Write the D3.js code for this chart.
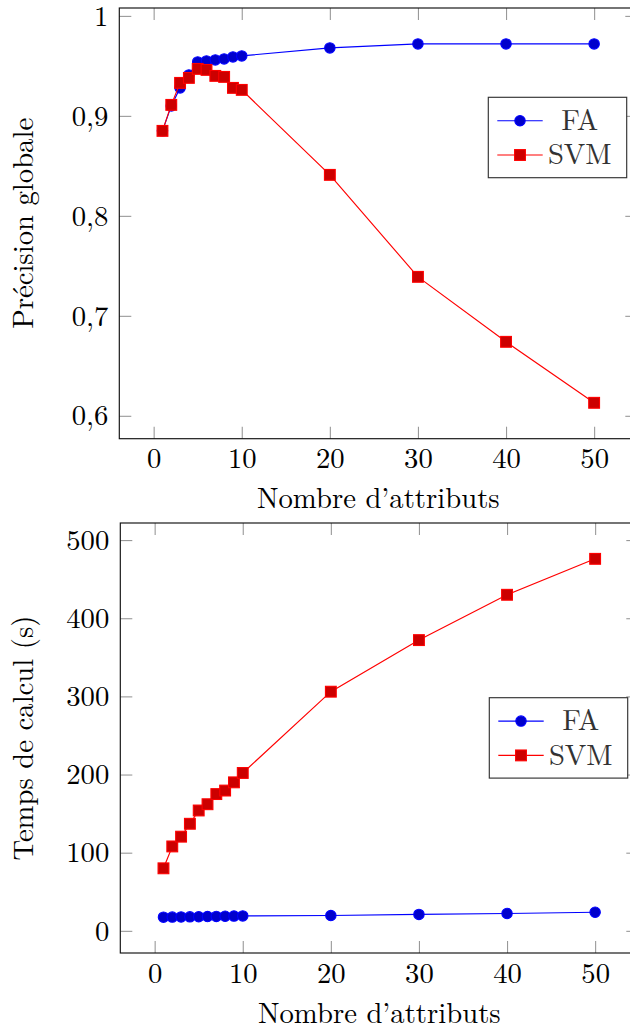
<!DOCTYPE html>
<html>
<head>
<meta charset="utf-8">
<script src="https://cdn.jsdelivr.net/npm/d3@7"></script>
<style>
  html, body { margin: 0; padding: 0; background: #fff; }
  svg { display: block; }
</style>
</head>
<body>
<svg id="chart" width="630" height="1030"></svg>
<script>
// ---------- data ----------
const attributes = [1, 2, 3, 4, 5, 6, 7, 8, 9, 10, 20, 30, 40, 50];
const seriesNames = ["FA", "SVM"];
const accuracyFA  = [0.885, 0.910, 0.928, 0.941, 0.954, 0.955, 0.956, 0.957, 0.959, 0.960, 0.968, 0.972, 0.972, 0.972];
const accuracySVM = [0.885, 0.911, 0.933, 0.938, 0.947, 0.946, 0.940, 0.939, 0.928, 0.926, 0.841, 0.739, 0.674, 0.613];
const timeFA  = [17.5, 17.6, 17.8, 17.9, 18.1, 18.3, 18.5, 18.7, 18.9, 19.1, 19.6, 21.0, 22.2, 23.8];
const timeSVM = [80, 108, 120.5, 137, 154, 162, 175, 179.5, 190, 202, 306, 372, 430, 476];
const xTickValues = [0, 10, 20, 30, 40, 50];
const accTickValues = [0.6, 0.7, 0.8, 0.9, 1];
const timeTickValues = [0, 100, 200, 300, 400, 500];
const xLabel = "Nombre d\u2019attributs";
const accLabel = "Pr\u00e9cision globale";
const timeLabel = "Temps de calcul (s)";

// ---------- styles ----------
const FAMILY = '"Latin Modern Roman", "CMU Serif", "Liberation Serif", serif';
const FONT = 28.7;
const BLUE_LINE = "#0000ff", BLUE_FILL = "#0000cc";
const RED_LINE = "#ff0000", RED_FILL = "#cc0000";
const TICK_COLOR = "#999";
const TICK_LEN = 12;

const svg = d3.select("#chart");
const frLocale = d3.formatLocale({decimal: ",", thousands: "\u00a0", grouping: [3], currency: ["", " \u20ac"]});

function enlarge(lo, hi) { const r = hi - lo; return [lo - 0.1 * r, hi + 0.1 * r]; }

function drawMarker(sel, s) {
  if (s.shape === "circle") {
    sel.append("circle").attr("r", 5.2).attr("fill", s.fill)
      .attr("stroke", s.stroke).attr("stroke-width", 1.1);
  } else {
    sel.append("rect").attr("x", -5.4).attr("y", -5.4).attr("width", 10.8).attr("height", 10.8)
      .attr("fill", s.fill).attr("stroke", s.stroke).attr("stroke-width", 1.1);
  }
}

function panel(opts) {
  const {left, top, width, height, yFA, ySVM, yTicks, yFormat, yLabel, legendTop} = opts;
  const g = svg.append("g");
  const x = d3.scaleLinear()
    .domain(enlarge(d3.min(attributes), d3.max(attributes)))
    .range([left, left + width]);
  const all = yFA.concat(ySVM);
  const y = d3.scaleLinear()
    .domain(enlarge(d3.min(all), d3.max(all)))
    .range([top + height, top]);

  const styleTicks = sel => {
    sel.select(".domain").remove();
    sel.selectAll(".tick line").attr("stroke", TICK_COLOR).attr("stroke-width", 1.1);
  };
  const axB = g.append("g").attr("transform", `translate(0,${top + height})`)
    .call(d3.axisBottom(x).tickValues(xTickValues).tickSize(-TICK_LEN).tickFormat(d3.format("d")));
  styleTicks(axB);
  axB.selectAll(".tick text").attr("y", 29.7).attr("dy", null)
    .attr("font-size", FONT).attr("fill", "#000");
  const axT = g.append("g").attr("transform", `translate(0,${top})`)
    .call(d3.axisTop(x).tickValues(xTickValues).tickSize(-TICK_LEN).tickFormat(""));
  styleTicks(axT);
  const axL = g.append("g").attr("transform", `translate(${left},0)`)
    .call(d3.axisLeft(y).tickValues(yTicks).tickSize(-TICK_LEN).tickPadding(11).tickFormat(yFormat));
  styleTicks(axL);
  axL.selectAll(".tick text").attr("dy", "0.32em")
    .attr("font-size", FONT).attr("fill", "#000");
  const axR = g.append("g").attr("transform", `translate(${left + width},0)`)
    .call(d3.axisRight(y).tickValues(yTicks).tickSize(-TICK_LEN).tickFormat(""));
  styleTicks(axR);

  g.append("rect").attr("x", left).attr("y", top).attr("width", width).attr("height", height)
    .attr("fill", "none").attr("stroke", "#111").attr("stroke-width", 1.15);

  g.append("text").attr("x", left + width / 2).attr("y", top + height + 69.5)
    .attr("text-anchor", "middle").attr("font-size", FONT).text(xLabel);
  g.append("text").attr("transform", `translate(32.5,${top + height / 2}) rotate(-90)`)
    .attr("text-anchor", "middle").attr("font-size", FONT).text(yLabel);

  const line = d3.line().x((d, i) => x(attributes[i])).y(d => y(d));
  const data = [
    {name: seriesNames[0], vals: yFA, stroke: BLUE_LINE, fill: BLUE_FILL, shape: "circle"},
    {name: seriesNames[1], vals: ySVM, stroke: RED_LINE, fill: RED_FILL, shape: "square"}
  ];
  data.forEach(s => {
    g.append("path").attr("d", line(s.vals)).attr("fill", "none")
      .attr("stroke", s.stroke).attr("stroke-width", 1.15);
    const pts = g.append("g").selectAll("g").data(s.vals).join("g")
      .attr("transform", (d, i) => `translate(${x(attributes[i])},${y(d)})`);
    drawMarker(pts, s);
  });

  const lw = 138.4, lh = 80.4;
  const lx = left + width - 10.6 - lw, ly = legendTop;
  const lg = g.append("g");
  lg.append("rect").attr("x", lx).attr("y", ly).attr("width", lw).attr("height", lh)
    .attr("fill", "#fff").attr("stroke", "#333").attr("stroke-width", 1.15);
  data.forEach((s, k) => {
    const ry = ly + 23.4 + k * 34.3;
    lg.append("line").attr("x1", lx + 9).attr("x2", lx + 54.4).attr("y1", ry).attr("y2", ry)
      .attr("stroke", s.stroke).attr("stroke-width", 1.15);
    const m = lg.append("g").attr("transform", `translate(${lx + 31.7},${ry})`);
    drawMarker(m, s);
    lg.append("text").attr("x", lx + 91.5).attr("y", ry + 9.3).attr("text-anchor", "middle")
      .attr("font-size", FONT).attr("fill", "#333").text(s.name);
  });
}

panel({
  left: 119.3, top: 8, width: 518, height: 430.7,
  yFA: accuracyFA, ySVM: accuracySVM, yTicks: accTickValues,
  yFormat: frLocale.format("~g"), yLabel: accLabel, legendTop: 97.3
});
panel({
  left: 120.3, top: 523, width: 518, height: 430,
  yFA: timeFA, ySVM: timeSVM, yTicks: timeTickValues,
  yFormat: d3.format("d"), yLabel: timeLabel, legendTop: 697.7
});

svg.selectAll("text").style("font-family", FAMILY);
</script>
</body>
</html>
